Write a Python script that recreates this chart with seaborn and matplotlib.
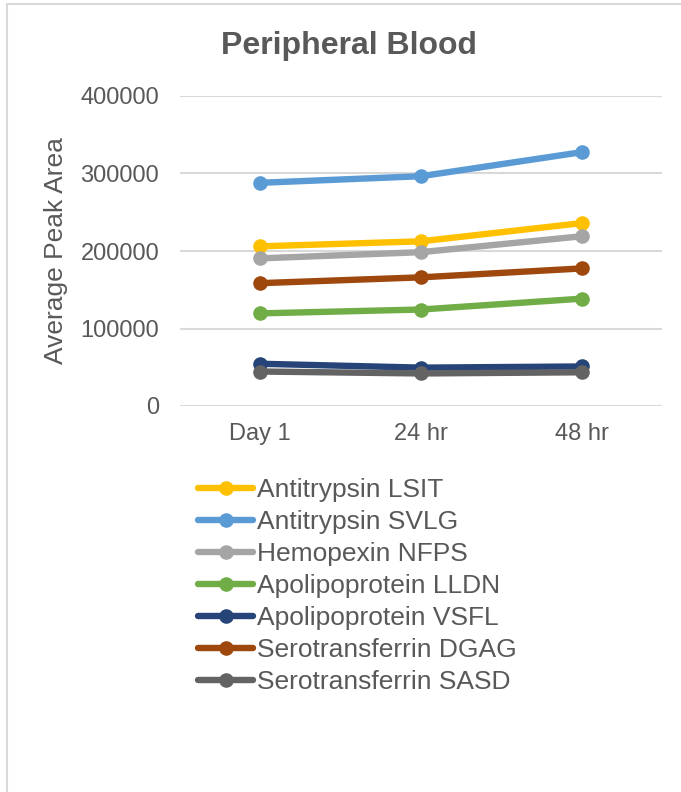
import matplotlib
matplotlib.use("Agg")
import matplotlib.pyplot as plt
import seaborn as sns
import pandas as pd
from matplotlib.lines import Line2D

# Time points and peptide series (average peak area)
timepoints = ["Day 1", "24 hr", "48 hr"]
series_names = [
    "Antitrypsin LSIT",
    "Antitrypsin SVLG",
    "Hemopexin NFPS",
    "Apolipoprotein LLDN",
    "Apolipoprotein VSFL",
    "Serotransferrin DGAG",
    "Serotransferrin SASD",
]
antitrypsin_lsit = [206000, 212500, 236000]
antitrypsin_svlg = [288000, 296500, 327500]
hemopexin_nfps = [190500, 198500, 219000]
apolipoprotein_lldn = [119500, 124500, 138500]
apolipoprotein_vsfl = [54500, 49500, 51000]
serotransferrin_dgag = [158500, 166000, 177500]
serotransferrin_sasd = [44500, 42000, 43500]

colors = ["#FFC000", "#5B9BD5", "#A5A5A5", "#70AD47", "#264478", "#9E480E", "#636363"]

values = [antitrypsin_lsit, antitrypsin_svlg, hemopexin_nfps, apolipoprotein_lldn,
          apolipoprotein_vsfl, serotransferrin_dgag, serotransferrin_sasd]

rows = []
for name, vals in zip(series_names, values):
    for t, v in zip(timepoints, vals):
        rows.append({"Time": t, "Series": name, "Value": v})
df = pd.DataFrame(rows)

sns.set_theme(style="white")
plt.rcParams["font.family"] = ["Liberation Sans", "DejaVu Sans"]
text_color = "#595959"
grid_color = "#D9D9D9"

W, H = 681, 792
fig = plt.figure(figsize=(W / 100, H / 100), dpi=100)
fig.patch.set_facecolor("white")

left, right, top, bottom = 180, 662, 96, 406
ax = fig.add_axes([left / W, 1 - bottom / H, (right - left) / W, (bottom - top) / H])

palette = dict(zip(series_names, colors))
sns.lineplot(data=df, x="Time", y="Value", hue="Series", hue_order=series_names,
             palette=palette, marker="o", markersize=10.5, markeredgewidth=0,
             linewidth=4.6, ax=ax, legend=False, sort=False)

ax.set_xlim(-0.5, 2.5)
ax.set_ylim(0, 400000)
ax.set_yticks([0, 100000, 200000, 300000, 400000])
ax.set_yticklabels(["0", "100000", "200000", "300000", "400000"])
ax.yaxis.grid(True, color=grid_color, linewidth=1.5)
ax.xaxis.grid(False)
ax.set_axisbelow(True)
for s in ax.spines.values():
    s.set_visible(False)
ax.tick_params(axis="both", length=0, labelsize=17, colors=text_color)
ax.tick_params(axis="y", pad=15)
ax.tick_params(axis="x", pad=12)
ax.set_xlabel("")
ax.set_ylabel("Average Peak Area", fontsize=19, color=text_color, labelpad=9)

fig.text(349 / W, 1 - 46 / H, "Peripheral Blood", ha="center", va="center",
         fontsize=23, fontweight="bold", color=text_color)

handles = [Line2D([0], [0], color=c, linewidth=4.6, marker="o", markersize=10.5,
                  markeredgewidth=0) for c in colors]
leg = fig.legend(handles, series_names, loc="upper left",
                 bbox_to_anchor=(198 / W, 1 - 478.5 / H), frameon=False,
                 fontsize=19, handlelength=2.1, handletextpad=0.14,
                 labelspacing=0.3, borderaxespad=0, borderpad=0)
for t in leg.get_texts():
    t.set_color(text_color)

# chart frame edges (top and left)
fig.add_artist(Line2D([7 / W, 1], [1 - 4 / H, 1 - 4 / H], color=grid_color, linewidth=1.5))
fig.add_artist(Line2D([7 / W, 7 / W], [0, 1 - 4 / H], color=grid_color, linewidth=1.5))

fig.savefig("out.png", dpi=100, facecolor="white")
